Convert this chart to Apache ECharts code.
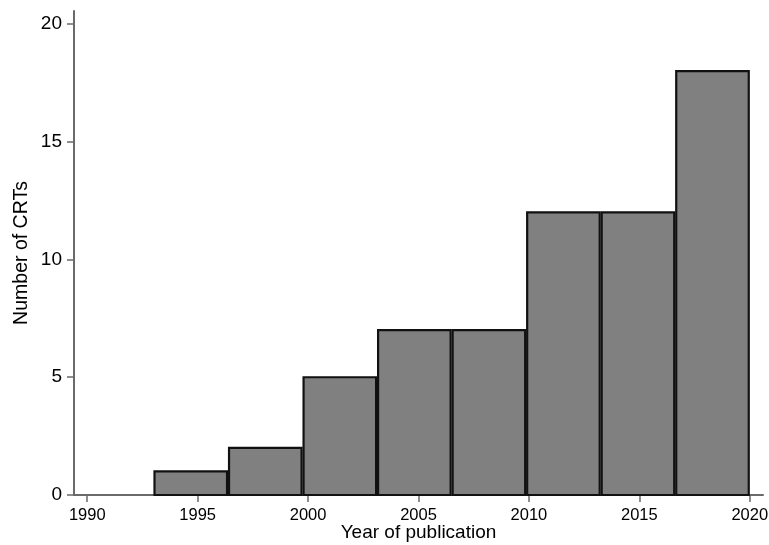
<!DOCTYPE html>
<html>
<head>
<meta charset="utf-8">
<script src="https://cdn.jsdelivr.net/npm/echarts@6/dist/echarts.min.js"></script>
<style>
  html, body { margin: 0; padding: 0; background: #fff; }
  #chart { width: 769px; height: 545px; }
</style>
</head>
<body>
<div id="chart"></div>
<script>
// Histogram of trial publications: bin edges (year) and counts per bin
const binStart = 1993;
const binWidth = 3.375;
const counts = [1, 2, 5, 7, 7, 12, 12, 18];
const xTicks = [1990, 1995, 2000, 2005, 2010, 2015, 2020];
const yTicks = [0, 5, 10, 15, 20];

const bins = counts.map((c, i) => [binStart + i * binWidth, binStart + (i + 1) * binWidth, c]);

const axisGray = '#6a6a6a';
const font = 'Liberation Sans, Arial, Helvetica, sans-serif';

const chart = echarts.init(document.getElementById('chart'), null, { renderer: 'canvas' });
chart.setOption({
  animation: false,
  backgroundColor: '#fff',
  grid: { left: 74, right: 6, top: 11, bottom: 50, containLabel: false, outerBoundsMode: 'none' },
  xAxis: {
    type: 'value',
    min: 1989.4,
    max: 2020.6,
    name: 'Year of publication',
    nameLocation: 'middle',
    nameGap: 38,
    nameMoveOverlap: false,
    nameTextStyle: { fontFamily: font, fontSize: 19, color: '#000', verticalAlign: 'middle' },
    splitLine: { show: false },
    axisLine: { show: true, onZero: false, lineStyle: { color: axisGray, width: 2 } },
    axisTick: { show: true, length: 7, customValues: xTicks, lineStyle: { color: axisGray, width: 1.5 } },
    axisLabel: { customValues: xTicks, formatter: v => String(v), fontFamily: font, fontSize: 16.5, color: '#000', margin: 12 }
  },
  yAxis: {
    type: 'value',
    min: 0,
    max: 20.55,
    name: 'Number of CRTs',
    nameLocation: 'middle',
    nameRotate: 90,
    nameGap: 52,
    nameMoveOverlap: false,
    nameTextStyle: { fontFamily: font, fontSize: 19.5, color: '#000', verticalAlign: 'middle' },
    splitLine: { show: false },
    axisLine: { show: true, lineStyle: { color: axisGray, width: 2 } },
    axisTick: { show: true, length: 7, customValues: yTicks, lineStyle: { color: axisGray, width: 1.5 } },
    axisLabel: { customValues: yTicks, formatter: v => String(v), fontFamily: font, fontSize: 19, color: '#000', margin: 12 }
  },
  series: [{
    type: 'custom',
    data: bins,
    encode: { x: [0, 1], y: 2 },
    renderItem: function (params, api) {
      const p0 = api.coord([api.value(0), 0]);
      const p1 = api.coord([api.value(1), api.value(2)]);
      return {
        type: 'rect',
        shape: { x: p0[0] + 1, y: p1[1], width: p1[0] - p0[0] - 2, height: p0[1] - p1[1] },
        style: { fill: '#808080', stroke: '#111', lineWidth: 2.2 }
      };
    }
  }]
});
</script>
</body>
</html>
